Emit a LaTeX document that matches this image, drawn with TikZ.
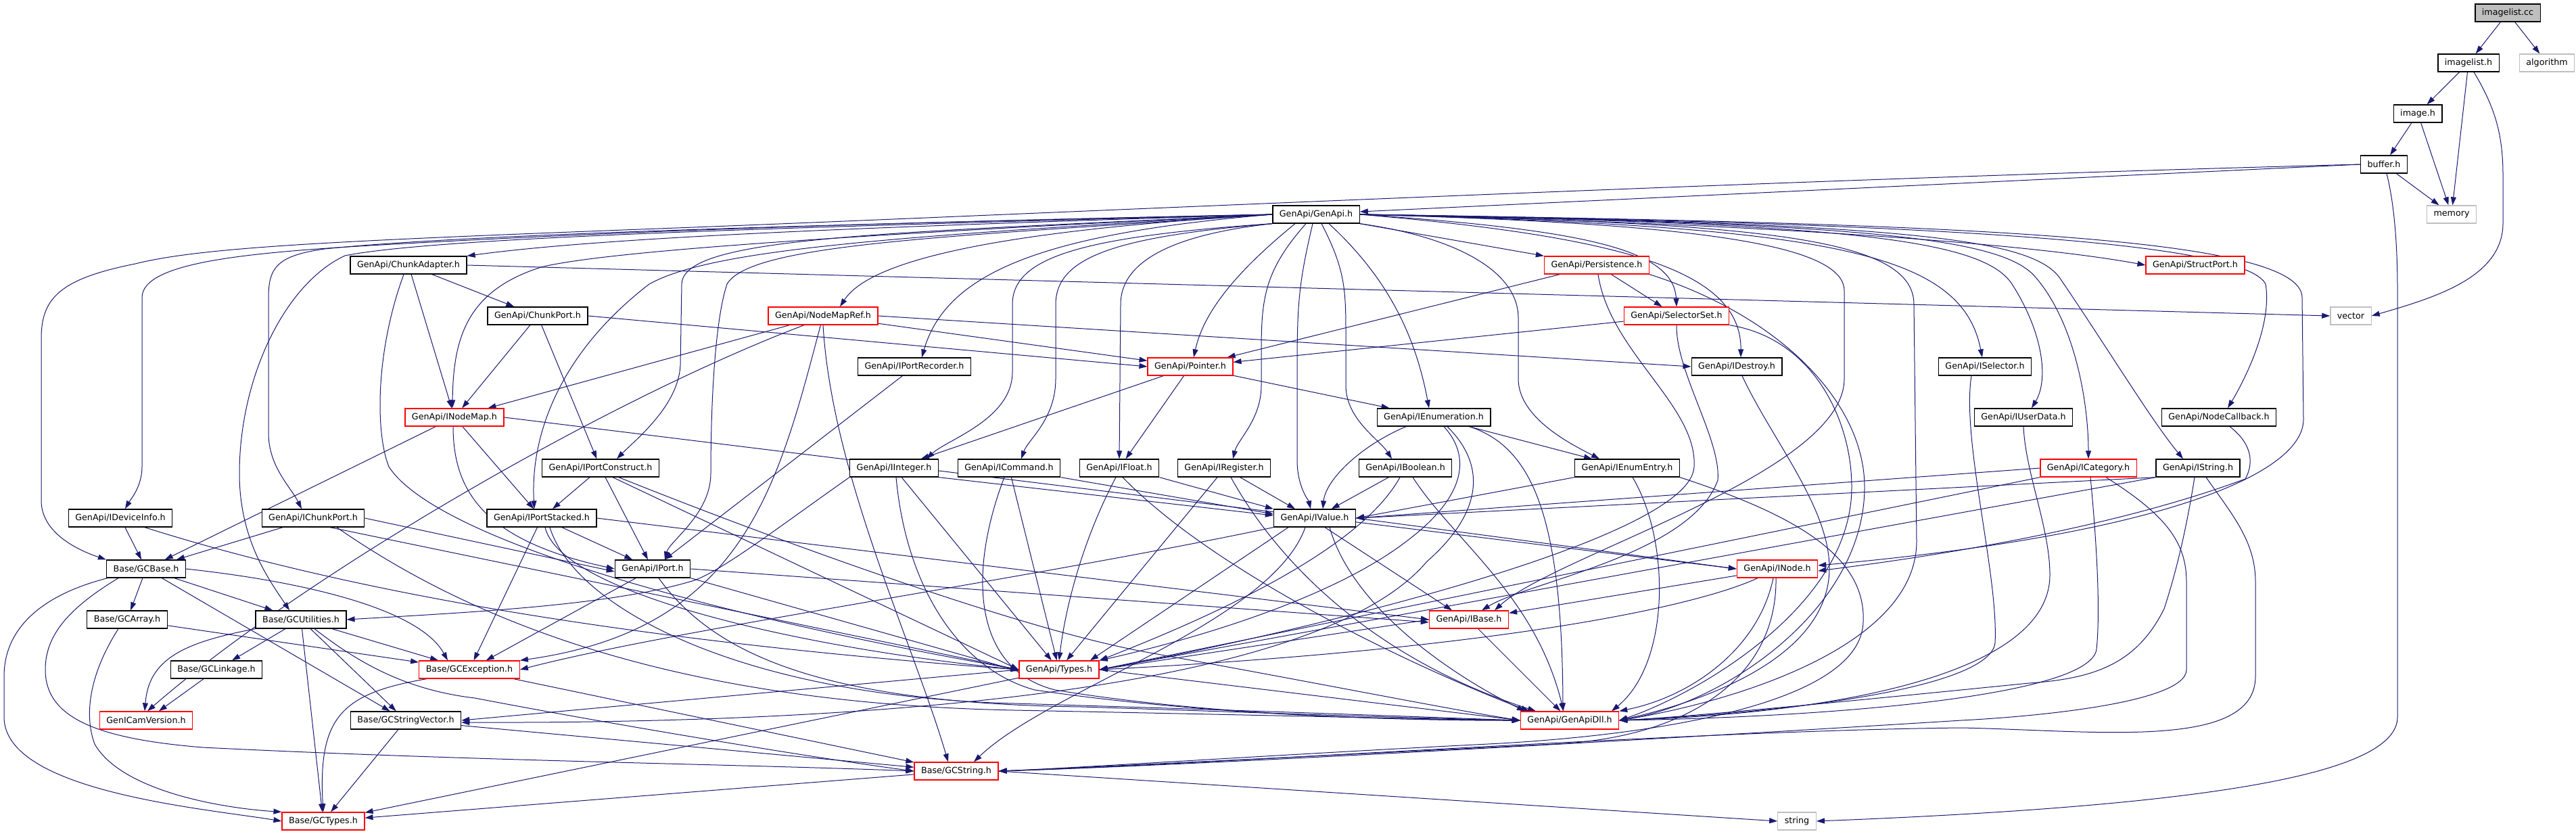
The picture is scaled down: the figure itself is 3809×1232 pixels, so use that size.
\documentclass[tikz,border=0pt]{standalone}
\usepackage{fontspec}
\setmainfont{DejaVu Sans}
\usetikzlibrary{arrows.meta}

\definecolor{edgeblue}{HTML}{191970}
\definecolor{boxred}{HTML}{FF0000}
\definecolor{boxgray}{HTML}{BFBFBF}

\pgfdeclarelayer{edges}
\pgfsetlayers{edges,main}

\begin{document}
\begin{tikzpicture}[
  x=1pt, y=1pt,
  >={Triangle[length=12pt,width=8pt]},
  every node/.style={font=\fontsize{12.7pt}{15pt}\selectfont},
  file/.style={rectangle, draw=black, line width=1.3pt, fill=white, minimum height=26pt, inner xsep=10pt, inner ysep=0pt},
  redfile/.style={file, draw=boxred},
  sysfile/.style={file, draw=boxgray},
  rootfile/.style={file, fill=boxgray},
  dep/.style={->, draw=edgeblue, line width=1pt}
]
\useasboundingbox (0,0) rectangle (3809,-1232);

% Top of the graph
\node[rootfile] (imagelistcc) at (3708,-19) {imagelist.cc};
\node[file] (imagelisth) at (3650,-93) {imagelist.h};
\node[sysfile] (algorithm) at (3766,-93) {algorithm};
\node[file] (imageh) at (3575,-168) {image.h};
\node[file] (bufferh) at (3525,-243) {buffer.h};
\node[sysfile] (memory) at (3625,-317) {memory};
\node[sysfile] (vector) at (3476,-467) {vector};
\node[sysfile] (string) at (2657,-1214) {string};

% GenApi headers
\node[file] (genapi) at (1946,-317) {GenApi/GenApi.h};
\node[file] (chunkadapter) at (604,-392) {GenApi/ChunkAdapter.h};
\node[redfile] (persistence) at (2361,-392) {GenApi/Persistence.h};
\node[redfile] (structport) at (3246,-392) {GenApi/StructPort.h};
\node[file] (chunkport) at (795,-467) {GenApi/ChunkPort.h};
\node[redfile] (nodemapref) at (1217,-467) {GenApi/NodeMapRef.h};
\node[redfile] (selectorset) at (2479,-467) {GenApi/SelectorSet.h};
\node[file] (iportrecorder) at (1352,-542) {GenApi/IPortRecorder.h};
\node[redfile] (pointer) at (1760,-542) {GenApi/Pointer.h};
\node[file] (idestroy) at (2568,-542) {GenApi/IDestroy.h};
\node[file] (iselector) at (2935,-542) {GenApi/ISelector.h};
\node[redfile] (inodemap) at (672,-617) {GenApi/INodeMap.h};
\node[file] (ienumeration) at (2120,-617) {GenApi/IEnumeration.h};
\node[file] (iuserdata) at (2992,-617) {GenApi/IUserData.h};
\node[file] (nodecallback) at (3281,-617) {GenApi/NodeCallback.h};
\node[file] (iportconstruct) at (888,-692) {GenApi/IPortConstruct.h};
\node[file] (iinteger) at (1322,-692) {GenApi/IInteger.h};
\node[file] (icommand) at (1492,-692) {GenApi/ICommand.h};
\node[file] (ifloat) at (1655,-692) {GenApi/IFloat.h};
\node[file] (iregister) at (1810,-692) {GenApi/IRegister.h};
\node[file] (iboolean) at (2078,-692) {GenApi/IBoolean.h};
\node[file] (ienumentry) at (2406,-692) {GenApi/IEnumEntry.h};
\node[redfile] (icategory) at (3088,-692) {GenApi/ICategory.h};
\node[file] (istring) at (3250,-692) {GenApi/IString.h};
\node[file] (ideviceinfo) at (178,-766) {GenApi/IDeviceInfo.h};
\node[file] (ichunkport) at (463,-766) {GenApi/IChunkPort.h};
\node[file] (iportstacked) at (801,-766) {GenApi/IPortStacked.h};
\node[file] (ivalue) at (1944,-766) {GenApi/IValue.h};
\node[file] (iport) at (965,-841) {GenApi/IPort.h};
\node[redfile] (inode) at (2628,-841) {GenApi/INode.h};
\node[redfile] (ibase) at (2172,-916) {GenApi/IBase.h};
\node[redfile] (types) at (1566,-990) {GenApi/Types.h};
\node[redfile] (genapidll) at (2321,-1065) {GenApi/GenApiDll.h};

% Base headers
\node[file] (gcbase) at (216,-841) {Base/GCBase.h};
\node[file] (gcarray) at (188,-916) {Base/GCArray.h};
\node[file] (gcutilities) at (445,-916) {Base/GCUtilities.h};
\node[file] (gclinkage) at (320,-990) {Base/GCLinkage.h};
\node[redfile] (gcexception) at (694,-990) {Base/GCException.h};
\node[file] (gcstringvector) at (600,-1065) {Base/GCStringVector.h};
\node[redfile] (genicamversion) at (216,-1065) {GenICamVersion.h};
\node[redfile] (gcstring) at (1414,-1140) {Base/GCString.h};
\node[redfile] (gctypes) at (478,-1214) {Base/GCTypes.h};

\begin{pgfonlayer}{edges}
% imagelist.cc, imagelist.h, image.h
\draw[dep] (imagelistcc) -- (imagelisth);
\draw[dep] (imagelistcc) -- (algorithm);
\draw[dep] (imagelisth) -- (imageh);
\draw[dep] (imagelisth) -- (memory);
\draw[dep] ([xshift=8pt]imagelisth.south) .. controls (3690,-160) and (3701,-200) .. (3701,-260) -- (3701,-330) .. controls (3701,-410) and (3600,-440) .. (vector.east);
\draw[dep] (imageh) -- (bufferh);
\draw[dep] (imageh) -- (memory);

% buffer.h
\draw[dep] (bufferh.west) -- ([yshift=4pt]genapi.east);
\draw[dep] (bufferh) -- (memory);
\draw[dep] ([xshift=4pt]bufferh.south) .. controls (3540,-300) and (3545,-360) .. (3545,-430) -- (3545,-1060) .. controls (3545,-1140) and (3300,-1190) .. (string.east);
\draw[dep] (bufferh.west) .. controls (2600,-266) and (1500,-318) .. (1000,-337) .. controls (500,-356) and (300,-365) .. (200,-390) .. controls (90,-412) and (61,-440) .. (61,-500) -- (61,-740) .. controls (61,-790) and (120,-815) .. (gcbase.north west);

% GenApi.h, to the left
\draw[dep] (genapi.west) .. controls (1400,-327) and (1000,-338) .. (600,-360) .. controls (380,-372) and (210,-385) .. (210,-440) -- (210,-690) .. controls (210,-720) and (192,-740) .. ([xshift=7pt]ideviceinfo.north);
\draw[dep] (genapi.west) .. controls (1300,-330) and (700,-345) .. (480,-368) .. controls (410,-378) and (397,-395) .. (397,-440) -- (397,-640) .. controls (397,-690) and (430,-720) .. ([xshift=-17pt]ichunkport.north);
\draw[dep] (genapi.west) .. controls (1200,-335) and (650,-350) .. (510,-378) .. controls (420,-420) and (354,-560) .. (354,-700) .. controls (354,-800) and (400,-860) .. ([xshift=-17pt]gcutilities.north);
\draw[dep] (genapi.west) .. controls (1300,-335) and (900,-350) .. (chunkadapter.north east);
\draw[dep] (genapi.west) .. controls (1300,-345) and (900,-370) .. (800,-395) .. controls (690,-430) and (670,-500) .. ([xshift=-3pt]inodemap.north);
\draw[dep] (genapi.west) .. controls (1300,-350) and (1050,-370) .. (960,-420) .. controls (830,-520) and (784,-640) .. ([xshift=-11pt]iportstacked.north);
\draw[dep] (genapi.west) .. controls (1300,-345) and (1010,-350) .. (1008,-420) -- (1006,-540) .. controls (1003,-600) and (940,-650) .. ([xshift=24pt]iportconstruct.north);
\draw[dep] (genapi.west) .. controls (1400,-350) and (1110,-360) .. (1075,-420) .. controls (1055,-480) and (1051,-620) .. (1051,-700) .. controls (1051,-760) and (990,-800) .. ([xshift=18pt]iport.north);
\draw[dep] (genapi.west) .. controls (1500,-340) and (1290,-380) .. ([xshift=25pt]nodemapref.north);
\draw[dep] (genapi.west) .. controls (1550,-345) and (1400,-400) .. ([xshift=11pt]iportrecorder.north);

% GenApi.h, downwards
\draw[dep] (genapi.south west) .. controls (1600,-350) and (1497,-380) .. (1497,-450) -- (1497,-550) .. controls (1497,-620) and (1400,-650) .. ([xshift=48pt]iinteger.north);
\draw[dep] (genapi.south west) .. controls (1650,-350) and (1561,-380) .. (1561,-450) -- (1561,-560) .. controls (1561,-620) and (1520,-650) .. ([xshift=18pt]icommand.north);
\draw[dep] (genapi.south west) .. controls (1750,-345) and (1657,-380) .. (1657,-450) -- (ifloat.north);
\draw[dep] ([xshift=-31pt]genapi.south) .. controls (1830,-400) and (1780,-460) .. ([xshift=5pt]pointer.north);
\draw[dep] ([xshift=-15pt]genapi.south) .. controls (1870,-400) and (1865,-440) .. (1865,-520) -- (1865,-570) .. controls (1865,-620) and (1830,-650) .. ([xshift=13pt]iregister.north);
\draw[dep] ([xshift=-5pt]genapi.south) .. controls (1920,-420) and (1918,-450) .. (1918,-550) -- (1918,-680) .. controls (1918,-720) and (1935,-740) .. ([xshift=-6pt]ivalue.north);
\draw[dep] ([xshift=8pt]genapi.south) .. controls (1990,-400) and (1990,-430) .. (1990,-500) -- (1990,-570) .. controls (1990,-620) and (2040,-650) .. ([xshift=-20pt]iboolean.north);
\draw[dep] ([xshift=19pt]genapi.south) .. controls (2040,-400) and (2090,-480) .. ([xshift=-7pt]ienumeration.north);
\draw[dep] (genapi.south east) -- (persistence.north west);
\draw[dep] (genapi.south east) .. controls (2150,-350) and (2245,-400) .. (2245,-470) -- (2245,-560) .. controls (2245,-620) and (2330,-660) .. ([xshift=-41pt]ienumentry.north);

% GenApi.h, to the right
\draw[dep] (genapi.east) .. controls (2350,-340) and (2475,-370) .. (selectorset.north);
\draw[dep] (genapi.east) .. controls (2400,-350) and (2575,-400) .. ([xshift=6pt]idestroy.north);
\draw[dep] (genapi.east) .. controls (2500,-330) and (2727,-360) .. (2727,-430) -- (2727,-560) .. controls (2727,-700) and (2300,-820) .. ([xshift=38pt]ibase.north);
\draw[dep] (genapi.east) .. controls (2600,-330) and (2830,-350) .. (2830,-450) -- (2834,-800) .. controls (2834,-960) and (2550,-1040) .. (genapidll.east);
\draw[dep] (genapi.east) .. controls (2700,-335) and (2900,-370) .. ([xshift=-4pt]iselector.north);
\draw[dep] (genapi.east) .. controls (2700,-330) and (2930,-350) .. (2975,-420) .. controls (3020,-490) and (3030,-560) .. ([xshift=12pt]iuserdata.north);
\draw[dep] (genapi.east) .. controls (2750,-330) and (2960,-350) .. (3010,-410) .. controls (3070,-480) and (3088,-600) .. (icategory.north);
\draw[dep] (genapi.east) .. controls (2800,-330) and (3000,-350) .. (3045,-410) .. controls (3120,-520) and (3180,-620) .. ([xshift=-22pt]istring.north);
\draw[dep] (genapi.east) .. controls (2900,-330) and (3320,-360) .. (3350,-420) .. controls (3360,-480) and (3320,-560) .. ([xshift=13pt]nodecallback.north);
\draw[dep] (genapi.east) .. controls (2900,-330) and (3404,-350) .. (3404,-440) -- (3406,-620) .. controls (3406,-700) and (3200,-790) .. ([yshift=5pt]inode.east);
\draw[dep] (genapi.east) .. controls (2600,-330) and (3000,-360) .. (structport.west);

% ChunkAdapter.h, ChunkPort.h
\draw[dep] (chunkadapter.east) -- (vector.west);
\draw[dep] (chunkadapter) -- (chunkport);
\draw[dep] (chunkadapter) -- (inodemap);
\draw[dep] ([xshift=-7pt]chunkadapter.south) .. controls (555,-520) and (555,-640) .. (575,-690) .. controls (640,-790) and (1000,-900) .. (types.west);
\draw[dep] (chunkport) -- (inodemap);
\draw[dep] (chunkport) -- (iportconstruct);
\draw[dep] (chunkport.east) -- (pointer.west);

% NodeMapRef.h
\draw[dep] (nodemapref) -- (inodemap);
\draw[dep] (nodemapref) -- (pointer);
\draw[dep] (nodemapref.east) -- (idestroy.west);
\draw[dep] ([xshift=-28pt]nodemapref.south) .. controls (900,-590) and (450,-850) .. ([xshift=2pt]genicamversion.north);
\draw[dep] (nodemapref) .. controls (1150,-720) and (1100,-930) .. (gcexception.north east);
\draw[dep] (nodemapref.south) .. controls (1230,-700) and (1350,-950) .. ([xshift=-12pt]gcstring.north);

% Persistence.h, SelectorSet.h
\draw[dep] (persistence) -- (pointer);
\draw[dep] (persistence) -- (selectorset);
\draw[dep] ([xshift=2pt]persistence.south) .. controls (2380,-520) and (2510,-600) .. (2505,-690) .. controls (2500,-800) and (1900,-940) .. (types.east);
\draw[dep] (persistence.south east) .. controls (2640,-470) and (2757,-600) .. (2757,-720) .. controls (2757,-900) and (2550,-1040) .. (genapidll.east);
\draw[dep] (selectorset) -- (pointer);
\draw[dep] (selectorset.south) .. controls (2478,-550) and (2545,-650) .. (2540,-710) .. controls (2500,-820) and (2260,-860) .. ([xshift=19pt]ibase.north);
\draw[dep] (selectorset.south east) .. controls (2680,-500) and (2738,-620) .. (2738,-720) .. controls (2738,-900) and (2500,-1030) .. (genapidll.east);

% IPortRecorder.h, Pointer.h
\draw[dep] (iportrecorder) -- (iport);
\draw[dep] (pointer) -- (iinteger);
\draw[dep] (pointer) -- (ifloat);
\draw[dep] (pointer) -- (ienumeration);

% IDestroy.h, ISelector.h, IUserData.h, NodeCallback.h
\draw[dep] ([xshift=8pt]idestroy.south) .. controls (2620,-650) and (2705,-750) .. (2705,-840) .. controls (2705,-960) and (2550,-1030) .. (genapidll.east);
\draw[dep] ([xshift=-20pt]iselector.south) .. controls (2900,-650) and (2955,-850) .. (2950,-950) .. controls (2945,-1010) and (2700,-1050) .. (genapidll.east);
\draw[dep] (iuserdata.south) .. controls (2995,-700) and (3031,-780) .. (3031,-850) .. controls (3031,-1000) and (2700,-1055) .. (genapidll.east);
\draw[dep] ([xshift=16pt]nodecallback.south) .. controls (3335,-660) and (3330,-690) .. (3320,-708) .. controls (3100,-790) and (2800,-830) .. ([yshift=-3pt]inode.east);

% ICategory.h, IString.h
\draw[dep] (icategory.west) -- (ivalue.east);
\draw[dep] (icategory.south west) -- (types.east);
\draw[dep] ([xshift=3pt]icategory.south) .. controls (3100,-800) and (3106,-900) .. (3100,-960) .. controls (3090,-1030) and (2700,-1060) .. (genapidll.east);
\draw[dep] ([xshift=26pt]icategory.south) .. controls (3200,-760) and (3233,-800) .. (3233,-860) -- (3233,-990) .. controls (3233,-1040) and (3000,-1060) .. (2900,-1065) .. controls (2500,-1090) and (1800,-1130) .. (gcstring.east);
\draw[dep] (istring.south west) -- (ivalue.east);
\draw[dep] (istring.south west) -- (types.east);
\draw[dep] ([xshift=-5pt]istring.south) .. controls (3230,-800) and (3213,-860) .. (3200,-900) .. controls (3160,-980) and (3100,-1003) .. (3000,-1010) .. controls (2800,-1030) and (2500,-1060) .. (genapidll.east);
\draw[dep] ([xshift=12pt]istring.south) .. controls (3300,-760) and (3335,-800) .. (3335,-860) -- (3335,-1000) .. controls (3335,-1110) and (3100,-1080) .. (2900,-1076) .. controls (2500,-1080) and (1800,-1130) .. (gcstring.east);

% IEnumeration.h, IEnumEntry.h, IBoolean.h
\draw[dep] ([xshift=-41pt]ienumeration.south) .. controls (2010,-660) and (1960,-710) .. ([xshift=12pt]ivalue.north);
\draw[dep] (ienumeration) -- (ienumentry);
\draw[dep] ([xshift=15pt]ienumeration.south) .. controls (2180,-680) and (2160,-740) .. (2080,-800) .. controls (1950,-900) and (1700,-960) .. (types.north east);
\draw[dep] ([xshift=20pt]ienumeration.south) .. controls (2200,-690) and (2190,-760) .. (2110,-830) .. controls (1950,-1020) and (1300,-1070) .. ([yshift=-3pt]gcstringvector.east);
\draw[dep] ([xshift=53pt]ienumeration.south) .. controls (2260,-660) and (2310,-750) .. ([xshift=-10pt]genapidll.north);
\draw[dep] (ienumentry.south west) -- (ivalue.east);
\draw[dep] ([xshift=8pt]ienumentry.south) .. controls (2470,-800) and (2470,-980) .. ([xshift=62pt]genapidll.north);
\draw[dep] (ienumentry.south east) .. controls (2650,-760) and (2760,-820) .. (2755,-920) .. controls (2750,-1050) and (2400,-1090) .. (2200,-1100) .. controls (1900,-1115) and (1600,-1135) .. (gcstring.east);
\draw[dep] (iboolean) -- (ivalue);
\draw[dep] ([xshift=-8pt]iboolean.south) .. controls (2040,-760) and (1950,-850) .. (types.north east);
\draw[dep] ([xshift=11pt]iboolean.south) .. controls (2150,-800) and (2270,-880) .. ([xshift=-9pt]genapidll.north);

% IInteger.h, ICommand.h, IFloat.h, IRegister.h
\draw[dep] (iinteger.south east) -- ([yshift=4pt]ivalue.west);
\draw[dep] (iinteger) -- (types);
\draw[dep] ([xshift=3pt]iinteger.south) .. controls (1340,-870) and (1420,-990) .. (1530,-1020) .. controls (1800,-1060) and (2100,-1065) .. (genapidll.west);
\draw[dep] (iinteger.south west) .. controls (1150,-780) and (1060,-850) .. (1020,-860) .. controls (900,-895) and (700,-905) .. (gcutilities.east);
\draw[dep] (icommand.south east) -- ([yshift=6pt]ivalue.west);
\draw[dep] (icommand) -- (types);
\draw[dep] ([xshift=-7pt]icommand.south) .. controls (1430,-850) and (1440,-990) .. (1560,-1020) .. controls (1800,-1060) and (2100,-1065) .. (genapidll.west);
\draw[dep] (ifloat.south east) -- (ivalue.north west);
\draw[dep] ([xshift=-5pt]ifloat.south) .. controls (1600,-800) and (1575,-900) .. (types.north);
\draw[dep] ([xshift=5pt]ifloat.south) .. controls (1800,-850) and (2100,-990) .. ([xshift=-60pt]genapidll.north);
\draw[dep] (iregister) -- ([xshift=-29pt]ivalue.north);
\draw[dep] ([xshift=-10pt]iregister.south) -- ([xshift=11pt]types.north);
\draw[dep] ([xshift=10pt]iregister.south) .. controls (1900,-850) and (2050,-980) .. ([xshift=-50pt]genapidll.north);

% IValue.h, INode.h, IBase.h
\draw[dep] (ivalue.east) -- (inode.west);
\draw[dep] ([xshift=15pt]ivalue.south) -- ([xshift=-25pt]ibase.north);
\draw[dep] ([xshift=22pt]ivalue.south) .. controls (2000,-900) and (2150,-1000) .. ([xshift=-66pt]genapidll.north);
\draw[dep] ([xshift=-39pt]ivalue.south) -- ([xshift=46pt]types.north);
\draw[dep] ([xshift=-14pt]ivalue.south) .. controls (1880,-920) and (1550,-1020) .. ([xshift=26pt]gcstring.north);
\draw[dep] (ivalue.south west) .. controls (1500,-860) and (1000,-930) .. (gcexception.east);
\draw[dep] (inode) -- (ibase);
\draw[dep] ([xshift=-29pt]inode.south) .. controls (2500,-900) and (2200,-960) .. (types.east);
\draw[dep] ([xshift=-6pt]inode.south) .. controls (2600,-960) and (2500,-1030) .. (genapidll.north east);
\draw[dep] ([xshift=-2pt]inode.south) .. controls (2628,-1000) and (2500,-1090) .. (2300,-1100) .. controls (2000,-1115) and (1600,-1135) .. (gcstring.east);
\draw[dep] (ibase.west) -- (types.east);
\draw[dep] (ibase) -- (genapidll);

% IPort.h, IPortStacked.h, IPortConstruct.h
\draw[dep] (iport.east) -- ([yshift=-4pt]ibase.west);
\draw[dep] (iport) -- (gcexception);
\draw[dep] (iport.south east) -- ([yshift=-2pt]types.west);
\draw[dep] ([xshift=9pt]iport.south) .. controls (1050,-960) and (1200,-1040) .. (1600,-1045) .. controls (1900,-1055) and (2100,-1062) .. (genapidll.west);
\draw[dep] (iportstacked) -- (iport);
\draw[dep] (iportstacked) -- (gcexception);
\draw[dep] (iportstacked.east) -- (ibase.west);
\draw[dep] ([xshift=5pt]iportstacked.south) .. controls (830,-880) and (1200,-960) .. (types.west);
\draw[dep] ([xshift=12pt]iportstacked.south) .. controls (850,-900) and (1100,-1030) .. (1500,-1040) .. controls (1900,-1052) and (2100,-1060) .. (genapidll.west);
\draw[dep] (iportconstruct) -- (iportstacked);
\draw[dep] (iportconstruct) -- (iport);
\draw[dep] ([xshift=18pt]iportconstruct.south) -- (types.west);
\draw[dep] ([xshift=27pt]iportconstruct.south) .. controls (1100,-780) and (1500,-930) .. (1700,-965) .. controls (1950,-1010) and (2150,-1050) .. (genapidll.west);

% INodeMap.h, IDeviceInfo.h, IChunkPort.h
\draw[dep] (inodemap) -- (gcbase);
\draw[dep] (inodemap) -- (iportstacked);
\draw[dep] ([xshift=-2pt]inodemap.south) .. controls (670,-730) and (720,-800) .. (iport.west);
\draw[dep] (inodemap.east) -- (inode.west);
\draw[dep] (ideviceinfo) -- (gcbase);
\draw[dep] ([xshift=36pt]ideviceinfo.south) .. controls (500,-870) and (900,-945) .. (types.west);
\draw[dep] (ichunkport) -- (gcbase);
\draw[dep] (ichunkport.east) -- ([yshift=-4pt]iport.west);
\draw[dep] ([xshift=25pt]ichunkport.south) -- (types.west);
\draw[dep] ([xshift=35pt]ichunkport.south) .. controls (700,-920) and (1000,-1040) .. (1500,-1050) .. controls (1900,-1058) and (2100,-1063) .. (genapidll.west);

% GCBase.h, GCArray.h
\draw[dep] ([xshift=-57pt]gcbase.south) .. controls (60,-880) and (6,-930) .. (6,-1000) -- (6,-1060) .. controls (6,-1170) and (300,-1195) .. (gctypes.west);
\draw[dep] ([xshift=-41pt]gcbase.south) .. controls (100,-900) and (67,-940) .. (67,-990) .. controls (67,-1060) and (140,-1092) .. (300,-1105) .. controls (700,-1125) and (1100,-1130) .. (gcstring.west);
\draw[dep] (gcbase) -- (gcarray);
\draw[dep] (gcbase) -- (gcutilities);
\draw[dep] (gcbase) -- (gcstringvector);
\draw[dep] (gcbase.east) .. controls (450,-860) and (620,-900) .. ([xshift=-32pt]gcexception.north);
\draw[dep] ([xshift=-13pt]gcarray.south) .. controls (130,-1000) and (125,-1060) .. (140,-1100) .. controls (180,-1170) and (330,-1195) .. (gctypes.north west);
\draw[dep] (gcarray) -- (gcexception);

% GCUtilities.h, GCLinkage.h
\draw[dep] (gcutilities.south west) .. controls (270,-950) and (220,-975) .. ([xshift=-2pt]genicamversion.north);
\draw[dep] (gcutilities) -- (gclinkage);
\draw[dep] (gcutilities) -- (gctypes);
\draw[dep] (gcutilities) -- (gcstringvector);
\draw[dep] ([xshift=20pt]gcutilities.south) .. controls (530,-980) and (600,-1020) .. (702,-1032) .. controls (900,-1070) and (1200,-1120) .. (gcstring.west);
\draw[dep] (gcutilities) -- (gcexception);
\draw[dep] (gclinkage) -- (genicamversion);

% GCException.h, GCStringVector.h, Types.h, GCString.h
\draw[dep] ([xshift=-63pt]gcexception.south) .. controls (505,-1025) and (470,-1060) .. (gctypes.north);
\draw[dep] (gcexception) -- (gcstring);
\draw[dep] (gcstringvector) -- (gctypes);
\draw[dep] (gcstringvector) -- (gcstring);
\draw[dep] (types) -- (gctypes);
\draw[dep] (types.west) -- (gcstringvector.east);
\draw[dep] (types.east) -- (genapidll.west);
\draw[dep] (gcstring) -- (gctypes);
\draw[dep] (gcstring.east) -- (string.west);
\end{pgfonlayer}

\end{tikzpicture}
\end{document}
